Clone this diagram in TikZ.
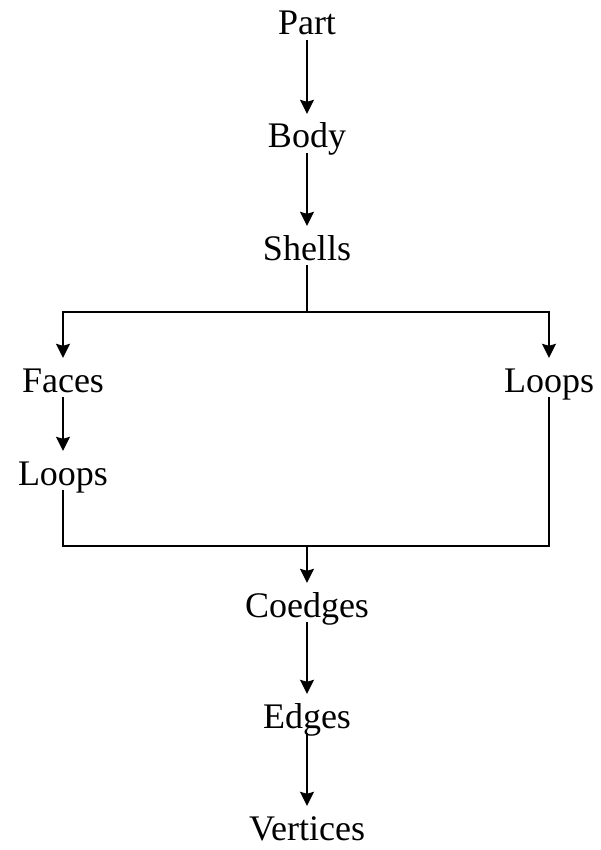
\documentclass[tikz,border=0pt]{standalone}
\usepackage{fontspec}
\setmainfont{Liberation Serif}
\usepackage{tikz}
\usetikzlibrary{arrows.meta}

\begin{document}
\begin{tikzpicture}[x=1pt, y=-1pt,
        voce/.style={inner sep=0pt, anchor=base, text height=34pt, text depth=5pt,
            font=\fontsize{36}{40}\selectfont},
        linea/.style={line width=1.5pt},
        freccia/.style={linea, -{Stealth[length=14pt, width=14pt, inset=2pt]}}]
        \useasboundingbox (0, 0) rectangle (600, 850);

        % Nodi
        \node[voce] (part) at (307, 35) {Part};
        \node[voce] (body) at (307, 148) {Body};
        \node[voce] (shells) at (307, 260) {Shells};
        \node[voce] (faces) at (63, 392) {Faces};
        \node[voce] (loopsR) at (549, 392) {Loops};
        \node[voce] (loopsL) at (63, 485) {Loops};
        \node[voce] (coedges) at (307, 617) {Coedges};
        \node[voce] (edges) at (307, 728) {Edges};
        \node[voce] (vertices) at (307, 840) {Vertices};

        % Diramazione e ricongiungimento
        \coordinate (split) at (307, 312);
        \coordinate (merge) at (307, 546);

        % Frecce
        \draw[freccia] (part) -- (body);
        \draw[freccia] (body) -- (shells);
        \draw[linea] (shells) -- (split);
        \draw[freccia] (split) -| (faces);
        \draw[freccia] (split) -| (loopsR);
        \draw[freccia] (faces) -- (loopsL);
        \draw[linea] (loopsL) |- (merge);
        \draw[linea] (loopsR) |- (merge);
        \draw[freccia] (merge) -- (coedges);
        \draw[freccia] (coedges) -- (edges);
        \draw[freccia] (edges) -- (vertices);
\end{tikzpicture}
\end{document}
